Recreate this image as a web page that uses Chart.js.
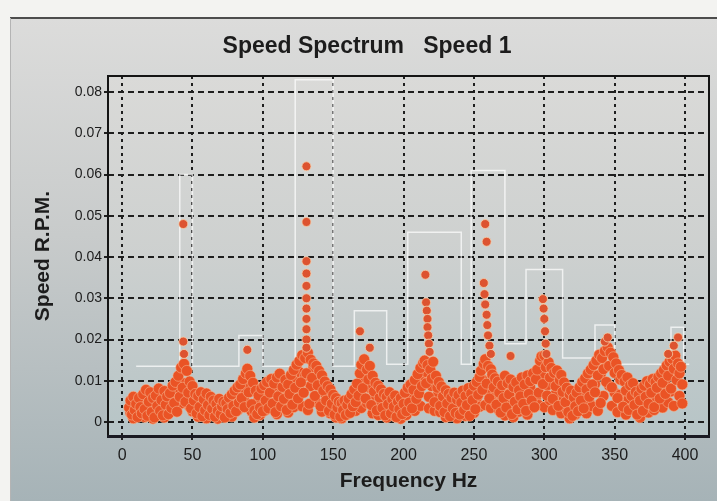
<!DOCTYPE html>
<html>
<head>
<meta charset="utf-8">
<script src="https://cdn.jsdelivr.net/npm/chart.js@4.4.1/dist/chart.umd.min.js"></script>
<style>
  html, body { margin: 0; padding: 0; background: #f3f3f1; }
  canvas { display: block; }
</style>
</head>
<body>
<canvas id="canvasEspectro" width="717" height="501"></canvas>
<script>
const TITULO = 'Speed Spectrum   Speed 1';
const TITULO_X = 'Frequency Hz';
const TITULO_Y = 'Speed R.P.M.';

const xTicks = [0, 50, 100, 150, 200, 250, 300, 350, 400];
const yTicks = [0, 0.01, 0.02, 0.03, 0.04, 0.05, 0.06, 0.07, 0.08];
const yTickLabels = ['0', '0.01', '0.02', '0.03', '0.04', '0.05', '0.06', '0.07', '0.08'];

// medición A: un valor por Hz, desde 5 Hz
const FREQ_INICIO_A = 5;
const FREQ_PASO_A = 1;
const espectroA = [
    0.0035, 0.0052, 0.0018, 0.0061, 0.0029, 0.0044, 0.0012, 0.0058, 0.0036, 0.0021,
    0.0067, 0.0031, 0.0078, 0.0015, 0.0049, 0.0072, 0.0024, 0.0058, 0.0011, 0.0064,
    0.0039, 0.0081, 0.0027, 0.0053, 0.0016, 0.0075, 0.0042, 0.0062, 0.0019, 0.0070,
    0.0034, 0.0088, 0.0046, 0.0097, 0.0025, 0.0112, 0.0061, 0.0132, 0.0083, 0.0141,
    0.0049, 0.0124, 0.0071, 0.0098, 0.0033, 0.0087, 0.0052, 0.0068, 0.0021, 0.0063,
    0.0036, 0.0072, 0.0014, 0.0055, 0.0028, 0.0069, 0.0041, 0.0017, 0.0061, 0.0032,
    0.0052, 0.0013, 0.0044, 0.0027, 0.0056, 0.0019, 0.0038, 0.0049, 0.0011, 0.0046,
    0.0031, 0.0059, 0.0022, 0.0067, 0.0039, 0.0076, 0.0026, 0.0084, 0.0047, 0.0091,
    0.0058, 0.0104, 0.0036, 0.0118, 0.0129, 0.0072, 0.0112, 0.0043, 0.0095, 0.0028,
    0.0076, 0.0019, 0.0064, 0.0035, 0.0081, 0.0026, 0.0089, 0.0052, 0.0097, 0.0033,
    0.0071, 0.0104, 0.0045, 0.0093, 0.0024, 0.0108, 0.0062, 0.0117, 0.0038, 0.0085,
    0.0056, 0.0102, 0.0029, 0.0091, 0.0068, 0.0114, 0.0042, 0.0126, 0.0083, 0.0139,
    0.0057, 0.0148, 0.0096, 0.0162, 0.0071, 0.0155, 0.0118, 0.0168, 0.0044, 0.0151,
    0.0107, 0.0142, 0.0063, 0.0136, 0.0089, 0.0124, 0.0038, 0.0113, 0.0076, 0.0098,
    0.0052, 0.0087, 0.0027, 0.0079, 0.0044, 0.0066, 0.0018, 0.0058, 0.0035, 0.0049,
    0.0013, 0.0046, 0.0029, 0.0052, 0.0017, 0.0041, 0.0056, 0.0022, 0.0067, 0.0038,
    0.0079, 0.0048, 0.0093, 0.0064, 0.0118, 0.0139, 0.0082, 0.0152, 0.0057, 0.0127,
    0.0103, 0.0136, 0.0041, 0.0112, 0.0074, 0.0095, 0.0028, 0.0088, 0.0059, 0.0079,
    0.0034, 0.0068, 0.0016, 0.0061, 0.0043, 0.0072, 0.0021, 0.0055, 0.0037, 0.0064,
    0.0012, 0.0049, 0.0031, 0.0058, 0.0019, 0.0044, 0.0071, 0.0026, 0.0083, 0.0047,
    0.0091, 0.0033, 0.0078, 0.0102, 0.0056, 0.0116, 0.0069, 0.0131, 0.0087, 0.0143,
    0.0149, 0.0094, 0.0138, 0.0061, 0.0127, 0.0105, 0.0146, 0.0048, 0.0112, 0.0083,
    0.0097, 0.0039, 0.0086, 0.0062, 0.0024, 0.0077, 0.0045, 0.0068, 0.0014, 0.0059,
    0.0033, 0.0071, 0.0022, 0.0054, 0.0065, 0.0018, 0.0047, 0.0076, 0.0029, 0.0063,
    0.0041, 0.0082, 0.0015, 0.0069, 0.0053, 0.0088, 0.0031, 0.0097, 0.0066, 0.0109,
    0.0124, 0.0078, 0.0141, 0.0152, 0.0093, 0.0136, 0.0057, 0.0128, 0.0115, 0.0084,
    0.0106, 0.0042, 0.0098, 0.0071, 0.0023, 0.0089, 0.0058, 0.0112, 0.0035, 0.0094,
    0.0067, 0.0103, 0.0019, 0.0085, 0.0049, 0.0096, 0.0031, 0.0077, 0.0062, 0.0108,
    0.0044, 0.0091, 0.0027, 0.0113, 0.0068, 0.0099, 0.0052, 0.0118, 0.0036, 0.0104,
    0.0127, 0.0071, 0.0148, 0.0159, 0.0092, 0.0161, 0.0133, 0.0064, 0.0145, 0.0108,
    0.0131, 0.0056, 0.0119, 0.0087, 0.0125, 0.0039, 0.0102, 0.0114, 0.0073, 0.0096,
    0.0048, 0.0083, 0.0024, 0.0067, 0.0076, 0.0015, 0.0059, 0.0038, 0.0071, 0.0026,
    0.0084, 0.0052, 0.0097, 0.0033, 0.0106, 0.0079, 0.0118, 0.0061, 0.0127, 0.0091,
    0.0138, 0.0072, 0.0149, 0.0113, 0.0163, 0.0046, 0.0155, 0.0128, 0.0172, 0.0097,
    0.0181, 0.0136, 0.0168, 0.0084, 0.0157, 0.0119, 0.0142, 0.0058, 0.0126, 0.0103,
    0.0114, 0.0037, 0.0098, 0.0076, 0.0108, 0.0029, 0.0089, 0.0063, 0.0094, 0.0041,
    0.0073, 0.0018, 0.0066, 0.0052, 0.0081, 0.0027, 0.0088, 0.0061, 0.0099, 0.0044,
    0.0092, 0.0071, 0.0104, 0.0036, 0.0097, 0.0083, 0.0109, 0.0057, 0.0118, 0.0095,
    0.0126, 0.0068, 0.0137, 0.0112, 0.0146, 0.0081, 0.0153, 0.0129, 0.0161, 0.0102,
    0.0142, 0.0118, 0.0134, 0.0091
];

// medición B: cada 2 Hz, desde 6 Hz
const FREQ_INICIO_B = 6;
const FREQ_PASO_B = 2;
const espectroB = [
    0.0022, 0.0009, 0.0038, 0.0016, 0.0031, 0.0012, 0.0044, 0.0025, 0.0008, 0.0036,
    0.0019, 0.0047, 0.0011, 0.0033, 0.0024, 0.0058, 0.0031, 0.0072, 0.0045, 0.0094,
    0.0081, 0.0037, 0.0026, 0.0049, 0.0013, 0.0041, 0.0022, 0.0009, 0.0035, 0.0018,
    0.0029, 0.0008, 0.0033, 0.0015, 0.0024, 0.0042, 0.0013, 0.0051, 0.0028, 0.0063,
    0.0082, 0.0047, 0.0091, 0.0026, 0.0011, 0.0048, 0.0017, 0.0062, 0.0029, 0.0071,
    0.0034, 0.0078, 0.0019, 0.0066, 0.0041, 0.0083, 0.0023, 0.0058, 0.0036, 0.0097,
    0.0121, 0.0038, 0.0112, 0.0029, 0.0087, 0.0133, 0.0049, 0.0102, 0.0025, 0.0069,
    0.0034, 0.0021, 0.0052, 0.0011, 0.0031, 0.0009, 0.0027, 0.0019, 0.0044, 0.0053,
    0.0027, 0.0072, 0.0034, 0.0101, 0.0046, 0.0083, 0.0021, 0.0064, 0.0017, 0.0045,
    0.0024, 0.0011, 0.0039, 0.0026, 0.0013, 0.0034, 0.0008, 0.0041, 0.0017, 0.0062,
    0.0058, 0.0027, 0.0084, 0.0039, 0.0098, 0.0121, 0.0033, 0.0087, 0.0027, 0.0064,
    0.0024, 0.0051, 0.0012, 0.0036, 0.0023, 0.0045, 0.0009, 0.0031, 0.0041, 0.0015,
    0.0029, 0.0047, 0.0022, 0.0058, 0.0037, 0.0103, 0.0041, 0.0078, 0.0034, 0.0052,
    0.0071, 0.0028, 0.0054, 0.0016, 0.0067, 0.0042, 0.0012, 0.0059, 0.0025, 0.0043,
    0.0071, 0.0018, 0.0083, 0.0035, 0.0058, 0.0041, 0.0112, 0.0036, 0.0089, 0.0053,
    0.0029, 0.0068, 0.0044, 0.0021, 0.0057, 0.0031, 0.0009, 0.0046, 0.0018, 0.0052,
    0.0029, 0.0064, 0.0021, 0.0047, 0.0038, 0.0092, 0.0027, 0.0115, 0.0063, 0.0135,
    0.0088, 0.0039, 0.0071, 0.0024, 0.0066, 0.0049, 0.0018, 0.0057, 0.0032, 0.0061,
    0.0037, 0.0011, 0.0034, 0.0048, 0.0023, 0.0066, 0.0029, 0.0052, 0.0074, 0.0035,
    0.0092, 0.0048, 0.0074, 0.0039, 0.0108, 0.0063, 0.0045
];

// picos: lecturas sueltas por encima de la banda
const picosFreq = [
    43.5, 43.5, 44, 89,
    131, 131, 131, 131, 131, 131, 131, 131, 131, 131, 131,
    169, 176,
    215.5, 216, 216.5, 217, 217, 217.5, 218, 218.5,
    258, 259, 257, 257.5, 258, 259, 259.5, 260, 261, 262,
    276,
    299, 299.5, 300, 300.5, 301, 301.5,
    343, 345, 388, 392, 395
];
const picosValor = [
    0.048, 0.0195, 0.0165, 0.0175,
    0.062, 0.0485, 0.039, 0.036, 0.033, 0.030, 0.0275, 0.025, 0.0225, 0.020, 0.018,
    0.022, 0.018,
    0.0357, 0.029, 0.027, 0.025, 0.023, 0.021, 0.019, 0.017,
    0.048, 0.0437, 0.0337, 0.031, 0.0285, 0.026, 0.0235, 0.021, 0.0185, 0.0165,
    0.016,
    0.0298, 0.0275, 0.025, 0.022, 0.019, 0.0165,
    0.0195, 0.0205, 0.0165, 0.0185, 0.0205
];

// umbral (línea blanca escalonada): nivel que empieza en cada frecuencia
const umbralFreq = [10, 41, 50, 83, 100, 123, 150, 165, 188, 203, 241, 248, 272, 287, 313, 336, 350, 390, 399, 403];
const umbralNivel = [0.0135, 0.060, 0.0135, 0.021, 0.0135, 0.083, 0.0135, 0.027, 0.014, 0.046, 0.014, 0.061, 0.019, 0.037, 0.0155, 0.0235, 0.014, 0.023, 0.014, 0.014];

const FUENTE = '"Liberation Sans", Arial, sans-serif';
const COLOR_TEXTO = '#1c1c1c';
const COLOR_PUNTO = '#ea5325';
const BORDE_PUNTO = 'rgba(244,186,150,0.55)';

const puntosA = espectroA.map((v, i) => ({ x: FREQ_INICIO_A + i * FREQ_PASO_A, y: v }));
const puntosB = espectroB.map((v, i) => ({ x: FREQ_INICIO_B + i * FREQ_PASO_B, y: v }));
const puntosPicos = picosFreq.map((f, i) => ({ x: f, y: picosValor[i] }));
const puntosUmbral = umbralFreq.map((f, i) => ({ x: f, y: umbralNivel[i] }));

const fondoPlugin = {
    id: 'fondo',
    beforeDraw(chart) {
        const { ctx, chartArea: a, width, height } = chart;
        ctx.save();
        ctx.fillStyle = '#f3f3f1';
        ctx.fillRect(0, 0, width, height);

        const grad = ctx.createLinearGradient(0, 18, 0, height);
        grad.addColorStop(0, '#dcdcdb');
        grad.addColorStop(0.45, '#c8cbcb');
        grad.addColorStop(1, '#a6b3b7');
        ctx.fillStyle = grad;
        ctx.fillRect(10, 18, width - 10, height - 18);

        ctx.fillStyle = '#4d4d4d';
        ctx.fillRect(10, 17, width - 10, 2);
        ctx.fillStyle = '#b4b4b4';
        ctx.fillRect(10, 18, 1, height - 18);

        const gradArea = ctx.createLinearGradient(0, a.top, 0, a.bottom);
        gradArea.addColorStop(0, '#dadad8');
        gradArea.addColorStop(0.5, '#cdd0cf');
        gradArea.addColorStop(1, '#b6c4c6');
        ctx.fillStyle = gradArea;
        ctx.fillRect(a.left, a.top, a.right - a.left, a.bottom - a.top);
        ctx.restore();
    },
    afterDraw(chart) {
        const { ctx, chartArea: a } = chart;
        ctx.save();
        ctx.strokeStyle = '#141414';
        ctx.lineWidth = 2;
        ctx.strokeRect(a.left, a.top, a.right - a.left, a.bottom - a.top);
        ctx.fillStyle = '#1a1a22';
        ctx.fillRect(a.left - 1, a.bottom - 1, a.right - a.left + 2, 3);

        ctx.fillStyle = COLOR_TEXTO;
        ctx.textAlign = 'center';
        ctx.textBaseline = 'middle';
        ctx.font = `bold 23px ${FUENTE}`;
        ctx.fillText(TITULO, 367, 47);

        ctx.font = `bold 21px ${FUENTE}`;
        ctx.fillText(TITULO_X, (a.left + a.right) / 2, 481);

        ctx.translate(43, (a.top + a.bottom) / 2);
        ctx.rotate(-Math.PI / 2);
        ctx.fillText(TITULO_Y, 0, 0);
        ctx.restore();
    }
};

const estiloPunto = {
    backgroundColor: COLOR_PUNTO,
    borderColor: BORDE_PUNTO,
    borderWidth: 1,
    pointRadius: 5.5
};

new Chart(document.getElementById('canvasEspectro'), {
    type: 'scatter',
    data: {
        datasets: [
            {
                data: puntosUmbral,
                showLine: true,
                stepped: true,
                borderColor: 'rgba(255,255,255,0.7)',
                borderWidth: 1.5,
                pointRadius: 0,
                order: 4
            },
            { data: puntosB, ...estiloPunto, order: 3 },
            { data: puntosA, ...estiloPunto, order: 2 },
            { data: puntosPicos, ...estiloPunto, backgroundColor: '#dd5330', borderColor: 'rgba(246,208,170,0.8)', pointRadius: 4.5, order: 1 }
        ]
    },
    options: {
        responsive: false,
        animation: false,
        layout: { padding: { top: 76, right: 8, left: 0, bottom: 0 } },
        plugins: {
            legend: { display: false },
            tooltip: { enabled: false }
        },
        scales: {
            x: {
                type: 'linear',
                min: -10,
                max: 417,
                afterFit: (scale) => { scale.height = 65; },
                afterBuildTicks: (scale) => { scale.ticks = xTicks.map(v => ({ value: v })); },
                border: { display: false, dash: [3, 4] },
                grid: {
                    color: '#1e1e1e',
                    lineWidth: 2,
                    tickBorderDash: [],
                    tickColor: '#1e1e1e',
                    tickLength: 4
                },
                ticks: {
                    padding: 6,
                    color: COLOR_TEXTO,
                    font: { family: FUENTE, size: 16 },
                    maxRotation: 0,
                    callback: (v) => String(v)
                }
            },
            y: {
                type: 'linear',
                min: -0.0034,
                max: 0.0839,
                afterFit: (scale) => { scale.width = 108; },
                afterBuildTicks: (scale) => { scale.ticks = yTicks.map(v => ({ value: v })); },
                border: { display: false, dash: [6, 4] },
                grid: {
                    color: '#1e1e1e',
                    lineWidth: 2,
                    tickBorderDash: [],
                    tickColor: '#1e1e1e',
                    tickLength: 4
                },
                ticks: {
                    padding: 2,
                    color: COLOR_TEXTO,
                    font: { family: FUENTE, size: 14 },
                    callback: (v) => {
                        const i = yTicks.findIndex(t => Math.abs(t - v) < 1e-9);
                        return i >= 0 ? yTickLabels[i] : '';
                    }
                }
            }
        }
    },
    plugins: [fondoPlugin]
});
</script>
</body>
</html>
